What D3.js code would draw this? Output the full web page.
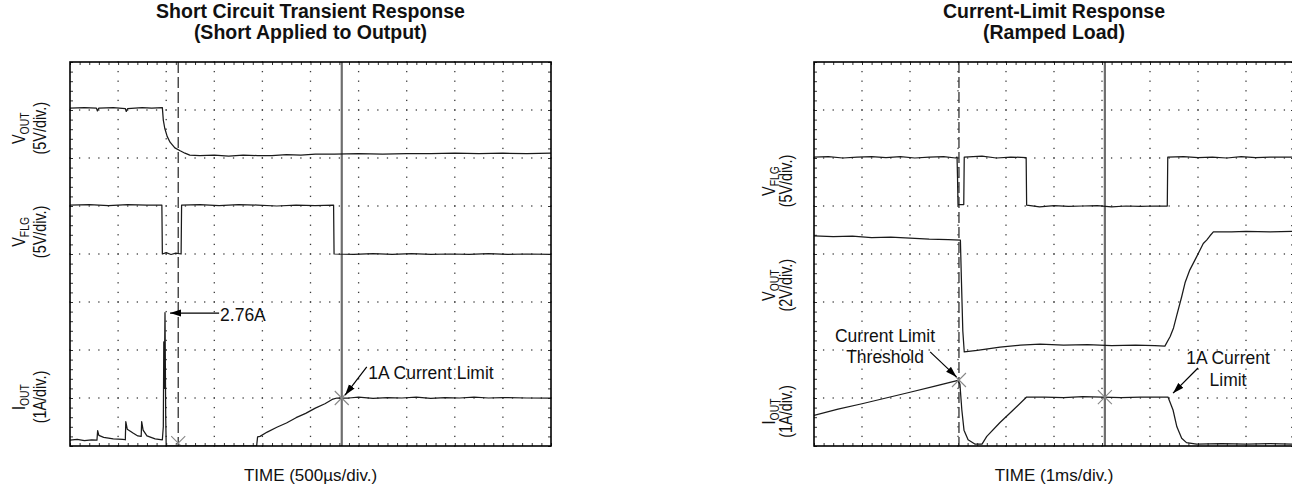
<!DOCTYPE html>
<html><head><meta charset="utf-8">
<script src="https://cdn.jsdelivr.net/npm/d3@7"></script>
<style>
body{margin:0;background:#fff}
svg{display:block}
text{font-family:"Liberation Sans",Arial,Helvetica,sans-serif;fill:#111}
</style>
</head><body>
<svg id="chart" width="1292" height="491"></svg>
<script>
// ---------- DATA (time and amplitude in scope divisions) ----------
const divX = 10, divY = 8;

// Left panel: Short Circuit Transient Response
const leftVout = [[0,7.04],[0.3,7.05],[0.55,7.04],[0.57,6.98],[0.6,7.04],[0.9,7.05],[1.15,7.03],[1.17,6.97],[1.2,7.03],[1.5,7.05],[1.7,7.04],[1.92,7.05],[1.94,6.79],[1.97,6.62],[2.02,6.45],[2.08,6.33],[2.18,6.21],[2.29,6.15],[2.39,6.1],[2.49,6.06],[2.7,6.05],[3.0,6.06],[3.3,6.04],[3.6,6.06],[3.9,6.05],[4.2,6.05],[4.5,6.07],[4.8,6.06],[5.1,6.08],[5.5,6.08],[6.0,6.09],[6.5,6.08],[7.0,6.09],[7.5,6.09],[8.0,6.1],[8.5,6.09],[9.0,6.1],[9.5,6.09],[10,6.1]];
const leftVflg = [[0,5.02],[0.4,5.03],[0.8,5.01],[1.2,5.03],[1.6,5.02],[1.91,5.02],[1.92,4.0],[2.0,4.03],[2.1,3.99],[2.2,4.02],[2.31,4.0],[2.32,5.02],[2.7,5.03],[3.1,5.01],[3.5,5.03],[3.9,5.02],[4.3,5.0],[4.7,5.02],[5.1,5.01],[5.48,5.02],[5.49,4.0],[5.9,3.99],[6.3,4.01],[6.7,3.99],[7.1,4.01],[7.5,3.99],[7.9,4.0],[8.3,3.99],[8.7,4.01],[9.1,3.99],[9.5,4.0],[10,3.99]];
const leftIout = [[0,0.12],[0.15,0.14],[0.3,0.11],[0.45,0.13],[0.56,0.12],[0.575,0.32],[0.6,0.22],[0.7,0.18],[0.9,0.15],[1.1,0.14],[1.15,0.13],[1.16,0.51],[1.19,0.35],[1.31,0.27],[1.41,0.21],[1.48,0.2],[1.49,0.51],[1.52,0.33],[1.6,0.21],[1.77,0.15],[1.92,0.13],[1.94,0.4],[1.95,2.17],[1.96,1.2],[1.975,2.78],[1.99,0.6],[2.0,0.0],[3.88,0.0],[3.9,0.19],[3.95,0.2],[4.1,0.29],[4.3,0.39],[4.5,0.48],[4.7,0.59],[4.9,0.68],[5.1,0.79],[5.3,0.88],[5.45,0.97],[5.55,1.0],[5.8,1.0],[6.0,1.02],[6.3,0.99],[6.6,1.01],[6.9,1.0],[7.2,1.02],[7.5,0.99],[7.8,1.01],[8.1,1.0],[8.4,1.02],[8.7,1.0],[9.0,1.01],[9.5,1.0],[10,1.0]];
const leftCursors = {dashed:2.25, solid:5.65};
const leftMarks = [[5.65,1.0],[2.25,0.06]];
const leftNotes = [{lines:["2.76A"], t:3.12, v:[2.6], anchor:"start"},{lines:["1A Current Limit"], t:6.2, v:[1.4], anchor:"start"}];
const leftArrows = [[3.1,2.77,2.08,2.77],[6.17,1.65,5.72,1.06]];
const leftLabels = [{main:"V",sub:"OUT",unit:"(5V/div.)",v:6.62},{main:"V",sub:"FLG",unit:"(5V/div.)",v:4.46},{main:"I",sub:"OUT",unit:"(1A/div.)",v:1.02}];
const leftTitle = ["Short Circuit Transient Response","(Short Applied to Output)"];
const leftXLabel = "TIME (500\u00B5s/div.)";

// Right panel: Current-Limit Response
const rightVflg = [[0,6.02],[0.3,6.03],[0.6,6.0],[0.9,6.02],[1.2,6.03],[1.5,6.01],[1.8,6.03],[2.1,6.0],[2.4,6.02],[2.7,6.03],[2.95,6.0],[2.98,6.02],[2.99,5.6],[3.0,5.03],[3.12,5.03],[3.13,6.02],[3.5,6.04],[3.8,6.0],[4.1,6.02],[4.42,6.01],[4.43,5.02],[4.7,4.98],[5.0,5.01],[5.3,4.99],[5.6,5.0],[5.9,5.01],[6.2,4.98],[6.5,5.0],[6.8,4.99],[7.1,5.0],[7.36,5.0],[7.37,6.02],[7.7,6.03],[8.0,6.01],[8.3,6.02],[8.6,6.0],[8.9,6.03],[9.2,6.01],[9.5,6.02],[10,6.02]];
const rightVout = [[0,4.38],[0.4,4.36],[0.8,4.37],[1.2,4.34],[1.6,4.35],[2.0,4.33],[2.4,4.31],[2.8,4.3],[3.05,4.29],[3.07,3.5],[3.1,2.4],[3.13,1.96],[3.4,1.99],[3.875,2.06],[4.3,2.1],[4.71,2.12],[5.2,2.1],[5.7,2.11],[6.2,2.09],[6.7,2.1],[7.1,2.09],[7.31,2.08],[7.42,2.28],[7.49,2.46],[7.56,2.73],[7.66,3.11],[7.73,3.4],[7.83,3.67],[7.97,3.94],[8.11,4.22],[8.18,4.29],[8.25,4.38],[8.32,4.46],[8.7,4.46],[9.0,4.47],[9.5,4.46],[10,4.47]];
const rightIout = [[0,0.64],[0.5,0.77],[1.0,0.88],[1.5,1.0],[2.0,1.12],[2.5,1.24],[2.98,1.36],[3.0,1.35],[3.04,1.29],[3.08,0.75],[3.125,0.33],[3.21,0.13],[3.35,0.04],[3.5,0.04],[3.6,0.2],[3.875,0.49],[4.15,0.75],[4.43,1.02],[4.8,1.02],[5.2,1.01],[5.6,1.03],[6.0,1.02],[6.4,1.01],[6.8,1.02],[7.2,1.02],[7.375,1.02],[7.48,0.75],[7.56,0.4],[7.66,0.16],[7.76,0.07],[7.97,0.04],[8.5,0.05],[9.0,0.04],[9.5,0.05],[10,0.04]];
const rightCursors = {dashed:3.02, solid:6.06};
const rightMarks = [[3.02,1.375],[6.06,1.02]];
const rightNotes = [{lines:["Current Limit","Threshold"], t:1.48, v:[2.17,1.73], anchor:"middle"},{lines:["1A Current","Limit"], t:8.625, v:[1.71,1.25], anchor:"middle"}];
const rightArrows = [[2.42,1.96,2.97,1.44],[8.0,1.625,7.48,1.10]];
const rightLabels = [{main:"V",sub:"FLG",unit:"(5V/div.)",v:5.52},{main:"V",sub:"OUT",unit:"(2V/div.)",v:3.35},{main:"I",sub:"OUT",unit:"(1A/div.)",v:0.72}];
const rightTitle = ["Current-Limit Response","(Ramped Load)"];
const rightXLabel = "TIME (1ms/div.)";

// ---------- DRAWING ----------
const svg = d3.select("#chart");
const defs = svg.append("defs");
defs.append("marker").attr("id","ah").attr("markerUnits","userSpaceOnUse")
  .attr("markerWidth",11).attr("markerHeight",8).attr("refX",11).attr("refY",4).attr("orient","auto")
  .append("path").attr("d","M0,0.5 L11,4 L0,7.5 Z").attr("fill","#000");

function panel(id, box, series, cursors, marks, notes, arrows, labels, title, xlabel, labelX) {
  const x = d3.scaleLinear().domain([0,divX]).range([box.x0, box.x1]);
  const y = d3.scaleLinear().domain([0,divY]).range([box.y1, box.y0]);
  const g = svg.append("g");
  defs.append("clipPath").attr("id","clip"+id).append("rect")
    .attr("x",box.x0).attr("y",box.y0).attr("width",box.x1-box.x0).attr("height",box.y1-box.y0);

  // dotted graticule
  const minorX = d3.range(0, divX+0.001, 0.2);
  const minorY = d3.range(0, divY+0.001, 0.2);
  const dots = [];
  d3.range(1,divX).forEach(t => minorY.forEach(v => dots.push([t,v])));
  d3.range(1,divY).forEach(v => minorX.forEach(t => dots.push([t,v])));
  g.append("g").selectAll("rect").data(dots).join("rect")
    .attr("x",d=>x(d[0])-0.65).attr("y",d=>y(d[1])-0.65).attr("width",1.3).attr("height",1.3).attr("fill","#3a3a3a");

  // border ticks via axes
  const noLab = a => a.tickFormat("").tickSizeOuter(0);
  const tk = sel => { sel.select(".domain").remove(); sel.selectAll("line").attr("stroke","#333"); };
  g.append("g").attr("transform",`translate(0,${box.y1})`).call(noLab(d3.axisBottom(x).tickValues(minorX).tickSize(-3))).call(tk);
  g.append("g").attr("transform",`translate(0,${box.y0})`).call(noLab(d3.axisTop(x).tickValues(minorX).tickSize(-3))).call(tk);
  g.append("g").attr("transform",`translate(${box.x0},0)`).call(noLab(d3.axisLeft(y).tickValues(minorY).tickSize(-3))).call(tk);
  g.append("g").attr("transform",`translate(${box.x1},0)`).call(noLab(d3.axisRight(y).tickValues(minorY).tickSize(-3))).call(tk);

  const cg = g.append("g").attr("clip-path",`url(#clip${id})`);
  // cursors
  cg.append("line").attr("x1",x(cursors.solid)).attr("x2",x(cursors.solid)).attr("y1",box.y0).attr("y2",box.y1)
    .attr("stroke","#6e6e6e").attr("stroke-width",2.2);
  cg.append("line").attr("x1",x(cursors.dashed)).attr("x2",x(cursors.dashed)).attr("y1",box.y0).attr("y2",box.y1)
    .attr("stroke","#333").attr("stroke-width",1.3).attr("stroke-dasharray","11,4");

  // traces
  const line = d3.line().x(d=>x(d[0])).y(d=>y(d[1]));
  series.forEach(s => cg.append("path").attr("d",line(s)).attr("fill","none")
    .attr("stroke","#1a1a1a").attr("stroke-width",1.25).attr("stroke-linejoin","round"));

  // X markers
  marks.forEach(m => {
    const cx = x(m[0]), cy = y(m[1]), r = 7;
    cg.append("path").attr("d",`M${cx-r},${cy-r}L${cx+r},${cy+r}M${cx-r},${cy+r}L${cx+r},${cy-r}`)
      .attr("stroke","#888").attr("stroke-width",1.1).attr("fill","none");
  });

  // border
  g.append("rect").attr("x",box.x0).attr("y",box.y0).attr("width",box.x1-box.x0).attr("height",box.y1-box.y0)
    .attr("fill","none").attr("stroke","#000").attr("stroke-width",1.6);

  // annotations
  arrows.forEach(a => g.append("line").attr("x1",x(a[0])).attr("y1",y(a[1])).attr("x2",x(a[2])).attr("y2",y(a[3]))
    .attr("stroke","#000").attr("stroke-width",1.2).attr("marker-end","url(#ah)"));
  notes.forEach(n => n.lines.forEach((ln,i) => g.append("text").attr("x",x(n.t)).attr("y",y(n.v[i]))
    .attr("text-anchor",n.anchor).style("font-size","17.5px").text(ln)));

  // titles
  const cx = (box.x0 + box.x1) / 2;
  title.forEach((t,i) => svg.append("text").attr("x",cx).attr("y",18+i*20.5).attr("text-anchor","middle")
    .style("font-size","19.5px").style("font-weight","bold").text(t));
  svg.append("text").attr("x",cx).attr("y",481).attr("text-anchor","middle").style("font-size","17px").text(xlabel);

  // channel labels (rotated)
  labels.forEach(l => {
    const cy = y(l.v);
    const t1 = svg.append("text").attr("transform",`translate(${labelX[0]},${cy}) rotate(-90) scale(0.8,1)`)
      .attr("text-anchor","middle").style("font-size","18px");
    t1.append("tspan").text(l.main);
    t1.append("tspan").attr("dy",4).style("font-size","13px").text(l.sub);
    svg.append("text").attr("transform",`translate(${labelX[1]},${cy}) rotate(-90) scale(0.8,1)`)
      .attr("text-anchor","middle").style("font-size","18px").text(l.unit);
  });
}

panel("L", {x0:70, x1:551, y0:62, y1:446}, [leftVout, leftVflg, leftIout], leftCursors, leftMarks,
      leftNotes, leftArrows, leftLabels, leftTitle, leftXLabel, [25,46]);
panel("R", {x0:814, x1:1294, y0:62, y1:446}, [rightVflg, rightVout, rightIout], rightCursors, rightMarks,
      rightNotes, rightArrows, rightLabels, rightTitle, rightXLabel, [775,792]);
</script>
</body></html>
